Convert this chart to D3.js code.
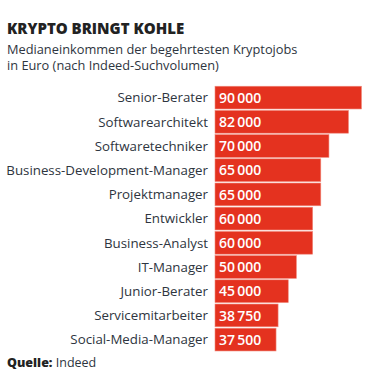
<!DOCTYPE html>
<html>
<head>
  <meta charset="UTF-8">
  <style>
    body { margin: 0; background: #fff; }
    svg text { font-family: "Open Sans", "Noto Sans", sans-serif; }
  </style>
</head>
<body>
  <svg></svg>
<script src="https://d3js.org/d3.v7.min.js"></script>
<script>
let width = 375,
    height = 385;

let jobs = ["Senior-Berater", "Softwarearchitekt", "Softwaretechniker",
  "Business-Development-Manager", "Projektmanager", "Entwickler",
  "Business-Analyst", "IT-Manager", "Junior-Berater",
  "Servicemitarbeiter", "Social-Media-Manager"];
let salaries = [90000, 82000, 70000, 65000, 65000, 60000, 60000, 50000, 45000, 38750, 37500];

let data = jobs.map((j, i) => ({job: j, value: salaries[i]}));

let svg = d3.select("svg")
    .attr("width", width)
    .attr("height", height);

let textColor = "#2e3540";
let red = "#e4321f";

// titel
svg.append("text")
  .attr("x", 7)
  .attr("y", 34)
  .attr("font-size", 15)
  .attr("font-weight", 800)
  .attr("fill", "#222")
  .text("KRYPTO BRINGT KOHLE");

svg.append("text")
  .attr("x", 7)
  .attr("y", 53.5)
  .attr("font-size", 12.8)
  .attr("fill", textColor)
  .text("Medianeinkommen der begehrtesten Kryptojobs");

svg.append("text")
  .attr("x", 7)
  .attr("y", 70)
  .attr("font-size", 12.8)
  .attr("fill", textColor)
  .text("in Euro (nach Indeed-Suchvolumen)");

let left = 215;

let x = d3.scaleLinear()
  .domain([0, 90000])
  .range([0, 146.5]);

let y = d3.scaleBand()
  .domain(jobs)
  .range([85.5, 85.5 + 11 * 24.2])
  .paddingInner(0.06)
  .paddingOuter(0.03);

let fmt = d3.formatLocale({decimal: ",", thousands: "\u2009", grouping: [3], currency: ["", "€"]}).format(",d");

let row = svg.append("g")
  .attr("id", "bars")
  .selectAll("g")
  .data(data)
  .enter()
  .append("g");

row.append("rect")
  .attr("x", left)
  .attr("y", d => y(d.job))
  .attr("width", d => x(d.value))
  .attr("height", y.bandwidth())
  .attr("fill", red)
  .attr("stroke", "#f08a7c")
  .attr("stroke-width", 0.6);

row.append("text")
  .attr("x", left - 7)
  .attr("y", d => y(d.job) + y.bandwidth() / 2)
  .attr("dy", "0.36em")
  .attr("text-anchor", "end")
  .attr("font-size", 13.3)
  .attr("fill", textColor)
  .text(d => d.job);

row.append("text")
  .attr("x", left + 4)
  .attr("y", d => y(d.job) + y.bandwidth() / 2)
  .attr("dy", "0.37em")
  .attr("font-size", 14)
  .attr("font-weight", 600)
  .attr("fill", "#fff")
  .text(d => fmt(d.value));

// quelle
let src = svg.append("text")
  .attr("x", 7)
  .attr("y", 367)
  .attr("font-size", 12.5)
  .attr("fill", textColor);
src.append("tspan").attr("font-weight", 800).attr("fill", "#222").text("Quelle: ");
src.append("tspan").text("Indeed");
</script>
</body>
</html>
